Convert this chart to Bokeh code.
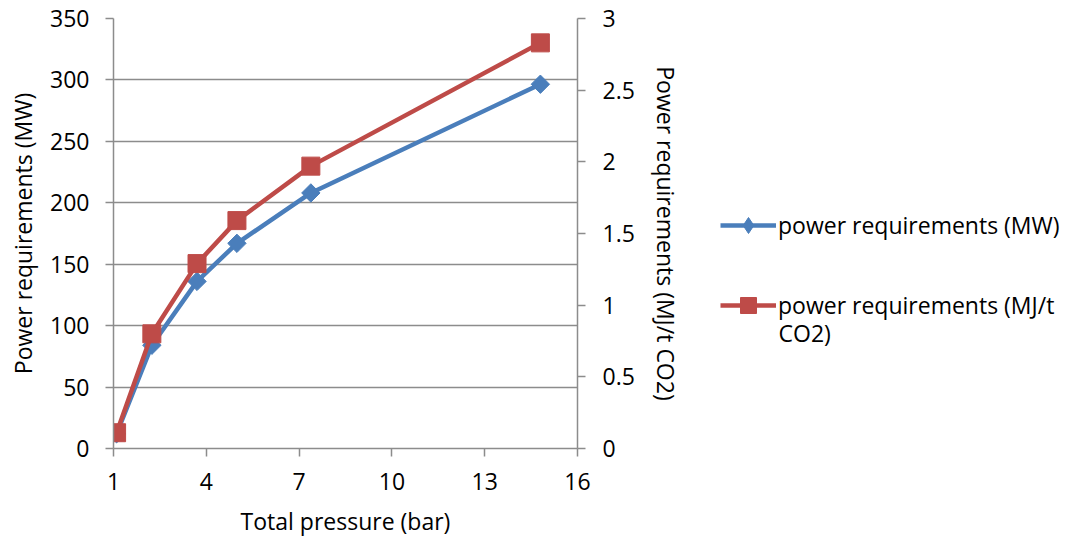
import math
from bokeh.plotting import figure
from bokeh.layouts import row
from bokeh.models import (Range1d, LinearAxis, FixedTicker, Legend, LegendItem, Label)
from bokeh.embed import file_html
from bokeh.resources import INLINE

# ---- data ----
pressure_bar = [1.1, 2.24, 3.70, 4.99, 7.38, 14.80]
power_mw = [12, 84, 136, 167, 208, 296.5]
power_mj_per_t = [0.11, 0.80, 1.29, 1.59, 1.97, 2.83]

x_ticks = [1, 4, 7, 10, 13, 16]
left_ticks = [0, 50, 100, 150, 200, 250, 300, 350]
right_ticks = [0, 0.5, 1, 1.5, 2, 2.5, 3]
right_tick_labels = ["0", "0.5", "1", "1.5", "2", "2.5", "3"]

series_labels = ["power requirements (MW)", "power requirements (MJ/t", "CO2)"]

BLUE = "#4A7EBB"
RED = "#BE4B48"
GRAY = "#8C8C8C"
FONT = "Open Sans"
FS = "23px"

p = figure(width=700, height=539, output_backend="svg", toolbar_location=None,
           x_range=Range1d(1, 16), y_range=Range1d(0, 350),
           min_border_left=113, min_border_right=123, min_border_top=18,
           min_border_bottom=91)
p.outline_line_color = None
p.background_fill_color = "white"
p.border_fill_color = "white"
p.extra_y_ranges = {"mj": Range1d(0, 3)}

def style_axis(ax):
    ax.axis_line_color = GRAY
    ax.axis_line_width = 1.5
    ax.major_tick_line_color = GRAY
    ax.major_tick_line_width = 1.5
    ax.major_tick_in = 0
    ax.major_tick_out = 8
    ax.minor_tick_line_color = None
    ax.major_label_text_font = FONT
    ax.major_label_text_font_size = FS
    ax.major_label_text_color = "#000000"
    ax.axis_label_text_font = FONT
    ax.axis_label_text_font_size = FS
    ax.axis_label_text_font_style = "normal"
    ax.axis_label_text_color = "#000000"

xa = p.xaxis[0]
xa.ticker = FixedTicker(ticks=x_ticks)
xa.axis_label = "Total pressure (bar)"
style_axis(xa)
xa.major_label_standoff = 16
xa.axis_label_standoff = 12

ya = p.yaxis[0]
ya.ticker = FixedTicker(ticks=left_ticks)
ya.axis_label = "Power requirements (MW)"
style_axis(ya)
ya.major_label_standoff = 16
ya.axis_label_standoff = 8

ra = LinearAxis(y_range_name="mj", axis_label="Power requirements (MJ/t CO2)")
ra.ticker = FixedTicker(ticks=right_ticks)
ra.major_label_overrides = {t: l for t, l in zip(right_ticks, right_tick_labels)}
style_axis(ra)
ra.major_label_standoff = 17
ra.axis_label_standoff = 12
p.add_layout(ra, "right")

p.xgrid.grid_line_color = None
p.ygrid.grid_line_color = GRAY
p.ygrid.grid_line_width = 1.5
p.ygrid.ticker = FixedTicker(ticks=left_ticks)

p.line(pressure_bar, power_mw, line_color=BLUE, line_width=4.5)
p.scatter(pressure_bar, power_mw, marker="square", size=13, angle=math.pi / 4,
          fill_color=BLUE, line_color=BLUE)
p.line(pressure_bar, power_mj_per_t, y_range_name="mj", line_color=RED, line_width=4.5)
p.scatter(pressure_bar, power_mj_per_t, y_range_name="mj", marker="square", size=18,
          fill_color=RED, line_color=RED)

# ---- legend panel (series drawn outside its visible range; only the legend shows) ----
lg = figure(width=382, height=539, output_backend="svg", toolbar_location=None,
            x_axis_type=None, y_axis_type=None, min_border=0,
            x_range=Range1d(100, 101), y_range=Range1d(-2000, -1000))
lg.outline_line_color = None
lg.grid.grid_line_color = None
lg1 = lg.line(pressure_bar, power_mw, line_color=BLUE, line_width=4.5)
lm1 = lg.scatter(pressure_bar, power_mw, marker="diamond", fill_color=BLUE, line_color=BLUE)
lg2 = lg.line(pressure_bar, power_mj_per_t, line_color=RED, line_width=4.5)
lm2 = lg.scatter(pressure_bar, power_mj_per_t, marker="square", fill_color=RED, line_color=RED)

legend = Legend(items=[
    LegendItem(label=series_labels[0], renderers=[lg1, lm1]),
    LegendItem(label=series_labels[1], renderers=[lg2, lm2]),
], location=(20, 123))
legend.border_line_color = None
legend.background_fill_alpha = 0
legend.padding = 0
legend.margin = 0
legend.spacing = 40
legend.glyph_width = 56
legend.glyph_height = 40
legend.label_height = 40
legend.label_standoff = 2
legend.label_text_font = FONT
legend.label_text_font_size = FS
legend.label_text_color = "#000000"
lg.add_layout(legend, "center")

lg.add_layout(Label(x=78, y=116, x_units="screen", y_units="screen",
                    text=series_labels[2], text_baseline="middle",
                    text_font=FONT, text_font_size=FS, text_color="#000000"))

open("out.html", "w").write(file_html(row(p, lg), INLINE))
